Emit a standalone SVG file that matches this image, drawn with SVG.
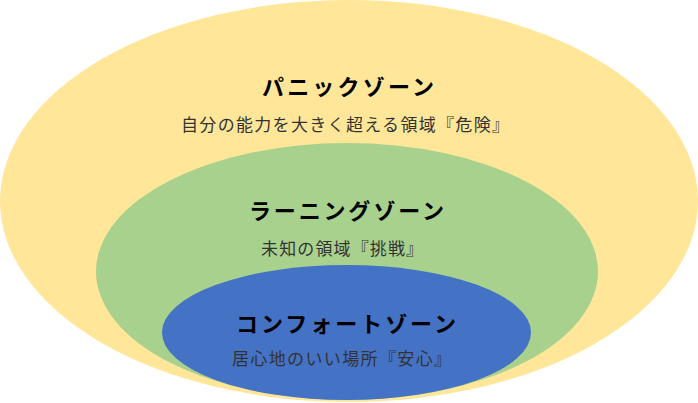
<svg xmlns="http://www.w3.org/2000/svg" width="698" height="403" viewBox="0 0 698 403">
<style>
.t{font-family:"Noto Sans CJK JP","Noto Sans CJK SC",sans-serif;font-size:22px;font-weight:bold;fill:#000;text-anchor:middle}
.s{font-family:"Noto Sans CJK JP","Noto Sans CJK SC",sans-serif;font-size:17px;fill:#333;text-anchor:middle}
</style>
<rect width="698" height="403" fill="#fff"/>
<g id="panic">
<ellipse cx="349" cy="201" rx="349" ry="201" fill="#FFE699"/>
<text class="t" x="348" y="95" textLength="172" lengthAdjust="spacing">パニックゾーン</text>
<text class="s" x="345" y="131" textLength="328" lengthAdjust="spacing">自分の能力を大きく超える領域『危険』</text>
</g>
<g id="learning">
<ellipse cx="347" cy="271.5" rx="251" ry="128.5" fill="#A9D18E"/>
<text class="t" x="346.5" y="219" textLength="195" lengthAdjust="spacing">ラーニングゾーン</text>
<text class="s" x="342" y="255" textLength="162" lengthAdjust="spacing">未知の領域『挑戦』</text>
</g>
<g id="comfort">
<ellipse cx="346.5" cy="332.5" rx="184.5" ry="67.5" fill="#4472C4"/>
<text class="t" x="346" y="332" textLength="220" lengthAdjust="spacing">コンフォートゾーン</text>
<text class="s" x="341.5" y="365" textLength="219" lengthAdjust="spacing">居心地のいい場所『安心』</text>
</g>
<g id="connectors"/>
</svg>
